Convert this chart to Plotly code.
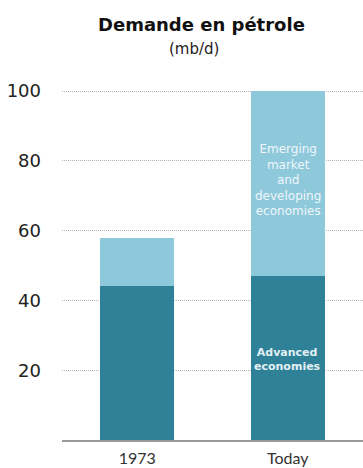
import plotly.graph_objects as go

# Oil demand (mb/d) by group
categories = ["1973", "Today"]
advanced = [44, 47]
emerging = [14, 53]
tick_values = [20, 40, 60, 80, 100]

DARK = "#2f8198"
LIGHT = "#8ec8db"
SANS = "DejaVu Sans, Arial, sans-serif"

fig = go.Figure()
fig.add_trace(go.Bar(x=categories, y=advanced, marker=dict(color=DARK, line=dict(width=0)),
                     name="Advanced economies", hoverinfo="skip"))
fig.add_trace(go.Bar(x=categories, y=emerging, marker=dict(color=LIGHT, line=dict(width=0)),
                     name="Emerging market and developing economies", hoverinfo="skip"))

fig.update_layout(
    barmode="stack",
    bargap=0.51,
    width=363, height=468,
    margin=dict(l=62, r=0, t=89, b=28),
    paper_bgcolor="white", plot_bgcolor="white",
    showlegend=False,
    font=dict(family=SANS, color="#222"),
    xaxis=dict(
        showgrid=False, showline=True, linecolor="#999999", linewidth=2,
        ticks="", tickfont=dict(family="Lato, Open Sans, sans-serif", size=16, color="#333"),
        ticklabelstandoff=3,
    ),
    yaxis=dict(
        range=[0, 100.6], tickvals=tick_values, showline=False, zeroline=False,
        showgrid=True, gridcolor="#b4b4b4", gridwidth=1, griddash="1px,1px",
        tickfont=dict(family=SANS, size=18, color="#222"), ticks="", ticklabelstandoff=20,
    ),
    annotations=[
        dict(text="<b>Demande en pétrole</b>", xref="paper", yref="paper", x=0.462, y=1,
             yanchor="middle", yshift=65, showarrow=False,
             font=dict(family=SANS, size=18, color="#111")),
        dict(text="(mb/d)", xref="paper", yref="paper", x=0.44, y=1, yanchor="middle",
             yshift=40, showarrow=False, font=dict(family=SANS, size=15, color="#222")),
        dict(text="Emerging<br>market<br>and<br>developing<br>economies", x="Today", y=74.6,
             showarrow=False, font=dict(family=SANS, size=12, color="#eef7fa")),
        dict(text="<b>Advanced<br>economies</b>", x="Today", y=23.2,
             showarrow=False, font=dict(family=SANS, size=11, color="#e2f0f5")),
    ],
)

fig.write_html("out.html")
